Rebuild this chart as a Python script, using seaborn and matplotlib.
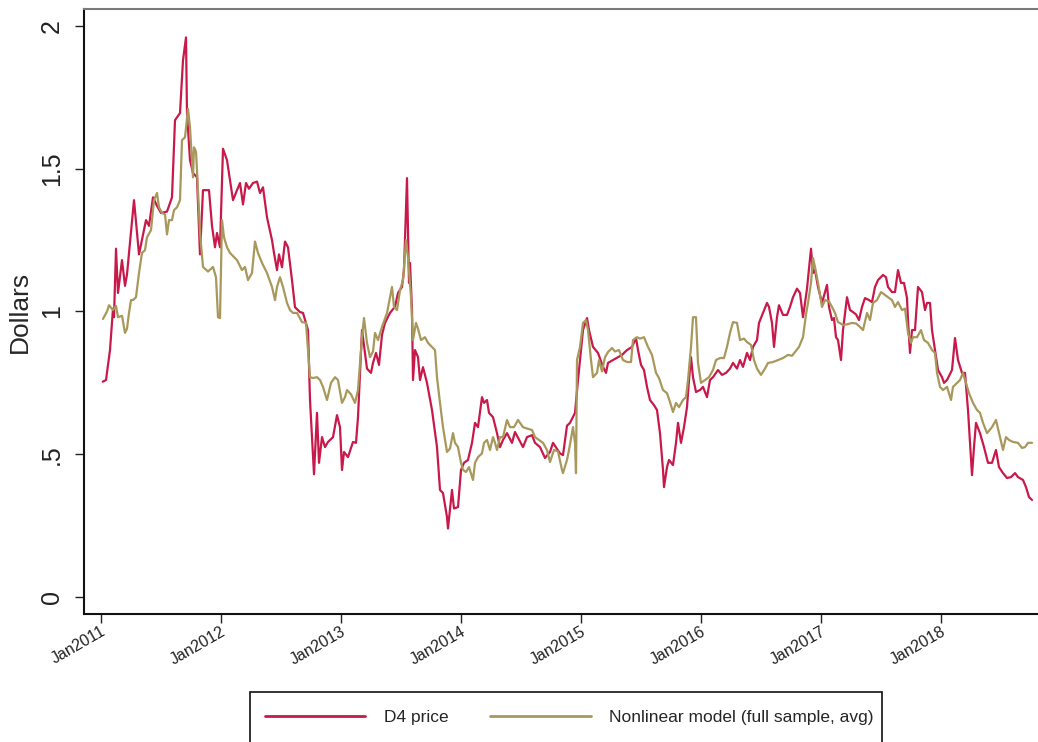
import numpy as np
import pandas as pd
import matplotlib
matplotlib.use("Agg")
import matplotlib.pyplot as plt
from matplotlib.patches import Rectangle
import seaborn as sns

# Weekly series, time measured in months elapsed since January 2011
d4_month = [0.22, 0.55, 0.95, 1.25, 1.35, 1.55, 1.75, 2.15, 2.45, 2.65, 3.35, 3.85, 4.55, 4.85,
            5.25, 5.65, 6.05, 6.65, 7.15, 7.45, 7.65, 7.95, 8.25, 8.55, 8.65, 8.95, 9.25, 9.65,
            9.95, 10.25, 10.85, 11.15, 11.45, 11.65, 11.95, 12.25, 12.65, 13.25, 13.65, 13.95,
            14.25, 14.55, 14.85, 15.25, 15.65, 15.95, 16.25, 16.65, 17.15, 17.35, 17.65, 17.85,
            18.15, 18.45, 18.75, 19.15, 19.45, 19.95, 20.25, 20.75, 20.95, 21.35, 21.65, 21.85,
            22.15, 22.45, 22.75, 23.25, 23.65, 23.95, 24.15, 24.35, 24.75, 25.25, 25.55, 25.75,
            26.15, 26.65, 27.05, 27.25, 27.55, 27.85, 28.15, 28.45, 28.95, 29.45, 29.75, 30.15,
            30.35, 30.65, 30.85, 30.95, 31.15, 31.25, 31.45, 31.75, 31.95, 32.25, 32.65, 33.15,
            33.65, 33.95, 34.25, 34.65, 34.75, 35.15, 35.35, 35.75, 36.05, 36.35, 36.75, 37.15,
            37.45, 37.75, 38.15, 38.35, 38.65, 38.85, 39.25, 39.65, 39.95, 40.25, 40.65, 41.15,
            41.45, 42.25, 42.65, 43.15, 43.45, 43.95, 44.45, 44.95, 45.25, 45.95, 46.25, 46.65,
            46.95, 47.45, 47.75, 48.05, 48.25, 48.65, 48.85, 49.25, 49.75, 50.25, 50.55, 50.75,
            51.25, 51.75, 52.15, 52.65, 53.15, 53.55, 53.75, 54.05, 54.35, 54.65, 54.95, 55.35,
            55.65, 55.95, 56.25, 56.35, 56.65, 56.85, 57.25, 57.55, 57.75, 58.05, 58.35, 58.65,
            58.85, 59.05, 59.25, 59.55, 59.95, 60.25, 60.65, 60.95, 61.25, 61.75, 62.15, 62.55,
            62.95, 63.25, 63.65, 63.95, 64.25, 64.65, 64.95, 65.25, 65.65, 65.85, 66.25, 66.65,
            66.85, 67.15, 67.35, 67.65, 67.85, 68.25, 68.65, 68.95, 69.25, 69.65, 69.95, 70.25,
            70.65, 71.05, 71.25, 71.45, 71.75, 72.15, 72.65, 72.85, 73.15, 73.35, 73.55, 73.75,
            74.05, 74.25, 74.65, 74.95, 75.25, 75.55, 75.85, 76.15, 76.45, 76.85, 77.15, 77.45,
            77.75, 78.25, 78.55, 78.75, 79.15, 79.45, 79.75, 80.05, 80.35, 80.65, 80.75, 80.95,
            81.15, 81.45, 81.75, 82.15, 82.45, 82.65, 82.95, 83.15, 83.45, 83.75, 84.15, 84.35,
            84.65, 85.15, 85.45, 85.75, 86.15, 86.45, 86.75, 87.15, 87.35, 87.55, 87.95, 88.35,
            88.75, 89.15, 89.55, 89.85, 90.25, 90.65, 91.05, 91.45, 91.75, 92.25, 92.55, 92.85,
            93.15]
d4_price = [0.754, 0.76, 0.865, 1.01, 0.98, 1.22, 1.065, 1.18, 1.09, 1.13, 1.39, 1.20, 1.32, 1.30,
            1.40, 1.37, 1.345, 1.35, 1.40, 1.67, 1.68, 1.695, 1.88, 1.96, 1.695, 1.53, 1.485, 1.47,
            1.20, 1.425, 1.425, 1.30, 1.225, 1.275, 1.225, 1.57, 1.53, 1.39, 1.425, 1.45,
            1.375, 1.45, 1.43, 1.45, 1.455, 1.415, 1.435, 1.33, 1.25, 1.205, 1.145, 1.20,
            1.155, 1.245, 1.225, 1.11, 1.015, 0.998, 0.995, 0.935, 0.69, 0.43, 0.645, 0.47,
            0.56, 0.525, 0.543, 0.56, 0.637, 0.595, 0.445, 0.508, 0.49, 0.543, 0.54, 0.63,
            0.935, 0.80, 0.785, 0.82, 0.855, 0.813, 0.918, 0.96, 0.995, 1.017, 1.065, 1.086,
            1.145, 1.467, 1.10, 1.17, 1.005, 0.76, 0.865, 0.84, 0.76, 0.805, 0.75, 0.655,
            0.525, 0.375, 0.364, 0.28, 0.24, 0.375, 0.31, 0.315, 0.445, 0.47, 0.48, 0.54,
            0.61, 0.595, 0.70, 0.68, 0.69, 0.645, 0.63, 0.574, 0.525, 0.55, 0.574, 0.54,
            0.578, 0.525, 0.56, 0.567, 0.54, 0.525, 0.487, 0.508, 0.54, 0.503, 0.497, 0.60,
            0.61, 0.645, 0.76, 0.865, 0.935, 0.977, 0.935, 0.876, 0.855, 0.806, 0.785, 0.82,
            0.83, 0.84, 0.848, 0.865, 0.876, 0.907, 0.865, 0.813, 0.795, 0.736, 0.69, 0.672,
            0.655, 0.574, 0.445, 0.385, 0.455, 0.48, 0.462, 0.54, 0.61, 0.54, 0.595, 0.665,
            0.76, 0.84, 0.77, 0.718, 0.725, 0.736, 0.70, 0.76, 0.77, 0.795, 0.778, 0.785,
            0.80, 0.82, 0.80, 0.83, 0.806, 0.855, 0.83, 0.876, 0.90, 0.96, 0.995, 1.03,
            1.016, 0.96, 0.876, 0.98, 1.022, 0.988, 0.988, 1.016, 1.05, 1.08, 1.065, 0.98,
            1.08, 1.22, 1.135, 1.145, 1.086, 1.03, 1.093, 1.016, 0.97, 0.977, 0.91, 0.90,
            0.83, 0.935, 1.05, 1.005, 0.998, 0.99, 0.97, 1.016, 1.047, 1.04, 1.033, 1.086,
            1.11, 1.128, 1.12, 1.086, 1.068, 1.068, 1.145, 1.10, 1.10, 1.047, 0.97, 0.855,
            0.935, 0.935, 1.086, 1.068, 1.005, 1.03, 1.03, 0.935, 0.865, 0.795, 0.77, 0.75,
            0.76, 0.795, 0.907, 0.83, 0.785, 0.785, 0.655, 0.427, 0.525, 0.61, 0.574, 0.525,
            0.47, 0.47, 0.515, 0.455, 0.434, 0.417, 0.42, 0.434, 0.42, 0.41, 0.385, 0.35,
            0.34]

model_month = [0.25, 0.65, 0.85, 1.25, 1.55, 1.75, 2.15, 2.45, 2.65, 2.85, 3.05, 3.25, 3.55, 3.85,
               4.15, 4.45, 4.65, 5.05, 5.35, 5.65, 5.85, 6.15, 6.45, 6.65, 6.85, 7.15, 7.35, 7.65,
               7.95, 8.15, 8.45, 8.75, 8.95, 9.25, 9.35, 9.55, 9.65, 9.95, 10.25, 10.75, 11.25,
               11.55, 11.75, 11.95, 12.15, 12.35, 12.65, 12.95, 13.65, 14.15, 14.45, 14.75, 15.15,
               15.45, 15.75, 16.15, 16.65, 17.15, 17.45, 17.65, 17.95, 18.25, 18.65, 18.95, 19.25,
               19.65, 20.15, 20.55, 20.95, 21.25, 21.65, 21.95, 22.25, 22.65, 23.05, 23.45, 23.75,
               24.15, 24.45, 24.65, 25.05, 25.45, 25.75, 26.15, 26.35, 26.65, 26.95, 27.25, 27.45,
               27.75, 28.15, 28.65, 29.15, 29.35, 29.65, 29.95, 30.25, 30.55, 30.75, 31.05, 31.25,
               31.55, 31.75, 32.05, 32.45, 32.75, 33.15, 33.45, 33.65, 33.95, 34.25, 34.65, 34.95,
               35.25, 35.45, 35.75, 36.05, 36.25, 36.55, 36.85, 37.25, 37.45, 37.75, 38.15, 38.35,
               38.65, 38.95, 39.25, 39.45, 39.65, 39.95, 40.25, 40.65, 40.95, 41.35, 41.75, 42.25,
               42.65, 43.15, 43.45, 43.85, 44.25, 44.65, 44.95, 45.35, 45.75, 46.15, 46.25, 46.65,
               46.85, 47.25, 47.45, 47.55, 47.65, 47.95, 48.25, 48.55, 48.75, 49.05, 49.25, 49.65,
               49.85, 50.15, 50.45, 50.75, 51.15, 51.45, 51.85, 52.25, 52.65, 53.05, 53.25, 53.65,
               53.95, 54.35, 54.75, 55.15, 55.55, 55.85, 56.25, 56.65, 56.95, 57.25, 57.55, 57.85,
               58.25, 58.55, 58.75, 59.05, 59.25, 59.55, 59.75, 60.05, 60.45, 60.85, 61.25, 61.55,
               61.95, 62.35, 62.65, 62.95, 63.25, 63.65, 63.95, 64.35, 64.65, 65.05, 65.35, 65.65,
               66.05, 66.45, 66.75, 67.25, 67.75, 68.25, 68.75, 69.15, 69.45, 69.85, 70.25, 70.55,
               70.75, 71.05, 71.25, 71.45, 71.75, 72.15, 72.45, 72.85, 73.15, 73.45, 73.75, 74.25,
               74.65, 75.15, 75.55, 75.95, 76.25, 76.65, 76.95, 77.25, 77.65, 78.05, 78.45, 78.75,
               79.15, 79.45, 79.75, 80.15, 80.45, 80.75, 81.05, 81.25, 81.65, 82.05, 82.35, 82.75,
               83.15, 83.45, 83.65, 83.95, 84.25, 84.65, 85.05, 85.25, 85.65, 85.95, 86.25, 86.55,
               86.85, 87.25, 87.65, 87.95, 88.25, 88.65, 89.15, 89.55, 89.95, 90.25, 90.55, 90.85,
               91.25, 91.75, 92.15, 92.45, 92.75, 93.15]
model_avg = [0.974, 1.0, 1.022, 1.005, 1.02, 0.98, 0.985, 0.925, 0.94, 0.995, 1.04, 1.04, 1.05, 1.135,
             1.205, 1.215, 1.26, 1.285, 1.39, 1.415, 1.365, 1.345, 1.34, 1.27, 1.32, 1.32, 1.355, 1.365,
             1.39, 1.60, 1.61, 1.71, 1.645, 1.47, 1.575, 1.56, 1.495, 1.275, 1.156, 1.14, 1.156,
             1.12, 0.98, 0.977, 1.32, 1.26, 1.225, 1.205, 1.18, 1.145, 1.156, 1.11, 1.135,
             1.245, 1.205, 1.17, 1.135, 1.086, 1.04, 1.086, 1.12, 1.086, 1.03, 1.005, 0.995,
             0.995, 0.963, 0.96, 0.77, 0.767, 0.77, 0.76, 0.736, 0.69, 0.75, 0.77, 0.76,
             0.68, 0.70, 0.725, 0.71, 0.68, 0.725, 0.91, 0.977, 0.89, 0.84, 0.86, 0.925,
             0.90, 0.946, 0.995, 1.086, 1.016, 1.005, 1.075, 1.11, 1.25, 1.19, 1.05, 0.90,
             0.96, 0.94, 0.90, 0.91, 0.89, 0.876, 0.865, 0.77, 0.68, 0.595, 0.508, 0.52,
             0.574, 0.54, 0.525, 0.47, 0.445, 0.438, 0.455, 0.41, 0.47, 0.49, 0.503, 0.54,
             0.55, 0.515, 0.56, 0.54, 0.515, 0.56, 0.56, 0.62, 0.595, 0.595, 0.62, 0.595,
             0.59, 0.585, 0.56, 0.55, 0.54, 0.515, 0.473, 0.515, 0.51, 0.445, 0.434, 0.48,
             0.515, 0.595, 0.54, 0.434, 0.83, 0.876, 0.96, 0.97, 0.935, 0.83, 0.77, 0.785,
             0.83, 0.79, 0.84, 0.858, 0.872, 0.86, 0.865, 0.83, 0.823, 0.823, 0.90, 0.91,
             0.905, 0.91, 0.876, 0.848, 0.785, 0.767, 0.725, 0.714, 0.683, 0.648, 0.68, 0.665,
             0.69, 0.70, 0.76, 0.876, 0.98, 0.98, 0.82, 0.75, 0.76, 0.77, 0.795, 0.83,
             0.837, 0.837, 0.876, 0.925, 0.963, 0.96, 0.90, 0.905, 0.893, 0.883, 0.83, 0.80,
             0.778, 0.80, 0.82, 0.823, 0.83, 0.837, 0.848, 0.845, 0.858, 0.876, 0.91, 0.99,
             1.03, 1.10, 1.187, 1.156, 1.10, 1.016, 1.04, 1.035, 1.016, 0.995, 0.963, 0.953,
             0.955, 0.96, 0.958, 0.946, 0.935, 0.995, 0.97, 1.03, 1.04, 1.068, 1.058, 1.05,
             1.04, 1.016, 1.033, 1.005, 1.01, 0.925, 0.89, 0.91, 0.91, 0.935, 0.90, 0.89,
             0.865, 0.855, 0.785, 0.736, 0.725, 0.736, 0.69, 0.736, 0.75, 0.76, 0.785, 0.75,
             0.714, 0.68, 0.655, 0.645, 0.61, 0.574, 0.595, 0.62, 0.56, 0.515, 0.56, 0.55,
             0.543, 0.54, 0.522, 0.525, 0.54, 0.54]

tick_labels = ["Jan2011", "Jan2012", "Jan2013", "Jan2014", "Jan2015", "Jan2016", "Jan2017", "Jan2018"]
y_ticks = [0, 0.5, 1, 1.5, 2]
y_tick_labels = ["0", ".5", "1", "1.5", "2"]

RED = "#c8194b"
TAN = "#a8985c"

sns.set_theme(style="white")
plt.rcParams["font.family"] = ["Liberation Sans", "DejaVu Sans"]

frames = [
    pd.DataFrame({"month": d4_month, "value": d4_price, "series": "D4 price"}),
    pd.DataFrame({"month": model_month, "value": model_avg,
                  "series": "Nonlinear model (full sample, avg)"}),
]
df = pd.concat(frames, ignore_index=True)

W, H = 1038, 742
fig = plt.figure(figsize=(W / 100, H / 100), dpi=100)
ax = fig.add_axes([83.5 / W, 1 - 614 / H, (1045 - 83.5) / W, (614 - 9) / H])

sns.lineplot(data=df, x="month", y="value", hue="series", sort=False,
             palette={"D4 price": RED, "Nonlinear model (full sample, avg)": TAN},
             linewidth=1.6, ax=ax, legend=False)

ax.set_xlim(-1.7, 94.45)
ax.set_ylim(-0.0595, 2.0595)

ax.set_xticks([12 * i for i in range(len(tick_labels))])
ax.set_xticklabels(tick_labels, rotation=30, ha="right", va="top",
                   rotation_mode="anchor", fontsize=11.5, color="#222222")
ax.set_yticks(y_ticks)
ax.set_yticklabels(y_tick_labels, rotation=90, va="center", fontsize=18, color="#222222")
ax.tick_params(axis="both", which="major", direction="out", length=6.5, width=1.0,
               color="#222222", bottom=True, left=True)
ax.tick_params(axis="x", pad=0.5)
ax.tick_params(axis="y", pad=7.5)

ax.set_xlabel("")
ax.set_ylabel("Dollars", fontsize=19, labelpad=6)

for side in ["left", "bottom"]:
    ax.spines[side].set_color("#111111")
    ax.spines[side].set_linewidth(1.5)
ax.spines["top"].set_color("#7a7a7a")
ax.spines["top"].set_linewidth(1.5)
ax.spines["right"].set_visible(False)
ax.grid(False)

# Legend entries in one row; the surrounding box runs off the bottom edge
handles = [plt.Line2D([], [], color=RED, linewidth=2.0),
           plt.Line2D([], [], color=TAN, linewidth=2.0)]
leg = fig.legend(handles, ["D4 price", "Nonlinear model (full sample, avg)"],
                 loc="center left", bbox_to_anchor=(250 / W, 1 - 717 / H),
                 ncol=2, fontsize=12.5, frameon=False,
                 handlelength=5.8, handletextpad=1.05, columnspacing=2.4,
                 borderpad=0.85, borderaxespad=0)
fig.patches.append(Rectangle((250 / W, -0.05), (882 - 250) / W, (742 - 692) / H + 0.05,
                             transform=fig.transFigure, fill=False,
                             edgecolor="#111111", linewidth=1.2))

fig.savefig("out.png", dpi=100)
